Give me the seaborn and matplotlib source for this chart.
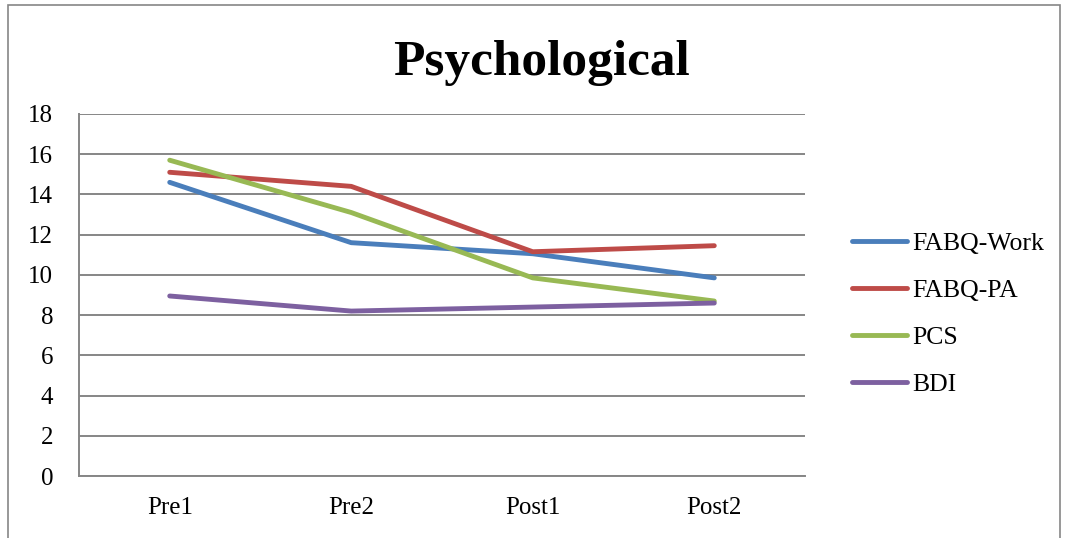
import pandas as pd
import matplotlib.pyplot as plt
import seaborn as sns
from matplotlib.patches import Rectangle
from matplotlib.ticker import FixedLocator

# data
timepoints = ['Pre1', 'Pre2', 'Post1', 'Post2']
fabq_work = [14.6, 11.6, 11.05, 9.85]
fabq_pa = [15.1, 14.4, 11.15, 11.45]
pcs = [15.7, 13.1, 9.85, 8.7]
bdi = [8.95, 8.2, 8.4, 8.6]

series_names = ['FABQ-Work', 'FABQ-PA', 'PCS', 'BDI']
colors = ['#4A7EBB', '#BE4B48', '#98B954', '#7D60A0']

#long format for seaborn
rows = []
for name, vals in zip(series_names, [fabq_work, fabq_pa, pcs, bdi]):
    for t, v in zip(timepoints, vals):
        rows.append({'Time': t, 'Score': v, 'Measure': name})
data = pd.DataFrame(rows)

sns.set_style('white')
plt.rcParams['font.family'] = ['Liberation Serif', 'DejaVu Serif']
plt.rcParams['text.color'] = 'black'
plt.rcParams['xtick.color'] = 'black'
plt.rcParams['ytick.color'] = 'black'

fig = plt.figure(figsize=(10.67, 5.38), dpi=100)
ax = fig.add_axes([0.074, 0.1152, 0.6805, 0.673])

sns.lineplot(data=data, x='Time', y='Score', hue='Measure', hue_order=series_names,
             palette=colors, linewidth=3.5, ax=ax, sort=False, legend=True)
for line in ax.lines:
    line.set_solid_capstyle('round')

ax.set_ylim(0, 18)
ax.set_yticks(range(0, 19, 2))
ax.set_xlim(-0.5, 3.5)
ax.set_xticks(range(4))
ax.set_xticklabels(timepoints)
ax.xaxis.set_minor_locator(FixedLocator([-0.5, 0.5, 1.5, 2.5, 3.5]))
ax.tick_params(axis='x', which='major', length=0, pad=15, labelsize=18)
ax.tick_params(axis='x', which='minor', length=6, width=1.3, color='#868686', direction='out')
ax.tick_params(axis='y', length=6.5, width=1.3, color='#868686', direction='out', pad=12, labelsize=18)
ax.set_xlabel('')
ax.set_ylabel('')

ax.grid(axis='y', color='#868686', linewidth=1.4)
ax.set_axisbelow(True)
for side in ['top', 'right']:
    ax.spines[side].set_visible(False)
for side in ['left', 'bottom']:
    ax.spines[side].set_color('#868686')
    ax.spines[side].set_linewidth(1.4)

#legend to the right of the plot
handles, labels = ax.get_legend_handles_labels()
ax.legend_.remove()
leg = fig.legend(handles, labels, loc='center left', bbox_to_anchor=(0.777, 0.416),
                 frameon=False, fontsize=18.5, labelspacing=0.93, handlelength=2.15,
                 handletextpad=0.2)
for h in leg.get_lines():
    h.set_linewidth(3.5)
    h.set_solid_capstyle('round')

fig.text(0.5075, 0.861, 'Psychological', ha='center', va='baseline', fontsize=37, fontweight='bold')

#outer chart border
fig.patches.append(Rectangle((0.0075, -0.01), 0.986, 1.0, transform=fig.transFigure,
                             fill=False, edgecolor='#868686', linewidth=1.2))

fig.savefig('out.png', dpi=100)
